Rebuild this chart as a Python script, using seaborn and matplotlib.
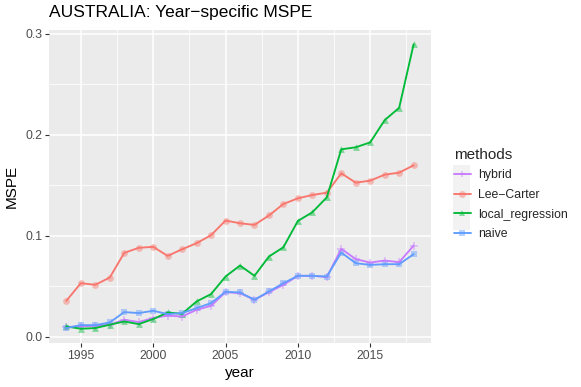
import matplotlib
matplotlib.use("Agg")
import matplotlib.pyplot as plt
from matplotlib.lines import Line2D
from matplotlib.patches import Rectangle
from matplotlib.ticker import MultipleLocator, FormatStrFormatter
from matplotlib.colors import to_rgba
import pandas as pd
import seaborn as sns

years = list(range(1994, 2019))

hybrid = [0.0096, 0.0102, 0.0109, 0.0119, 0.0168, 0.0145, 0.0185, 0.0210, 0.0200,
          0.0267, 0.0306, 0.0441, 0.0431, 0.0366, 0.0441, 0.0514, 0.0603, 0.0603,
          0.0590, 0.0870, 0.0768, 0.0734, 0.0754, 0.0738, 0.0902]
lee_carter = [0.0356, 0.0530, 0.0514, 0.0586, 0.0830, 0.0880, 0.0890, 0.0800, 0.0866,
              0.0926, 0.1005, 0.1150, 0.1123, 0.1107, 0.1200, 0.1314, 0.1370, 0.1403,
              0.1426, 0.1617, 0.1525, 0.1545, 0.1604, 0.1624, 0.1697]
local_regression = [0.0102, 0.0079, 0.0086, 0.0119, 0.0151, 0.0125, 0.0175, 0.0240,
                    0.0227, 0.0349, 0.0422, 0.0596, 0.0705, 0.0603, 0.0794, 0.0886,
                    0.1146, 0.1232, 0.1380, 0.1855, 0.1875, 0.1924, 0.2144, 0.2266,
                    0.2895]
naive = [0.0086, 0.0115, 0.0115, 0.0141, 0.0244, 0.0234, 0.0257, 0.0224, 0.0234,
         0.0283, 0.0333, 0.0445, 0.0438, 0.0366, 0.0448, 0.0530, 0.0603, 0.0603,
         0.0596, 0.0833, 0.0728, 0.0711, 0.0718, 0.0718, 0.0817]

methods = ["hybrid", "Lee-Carter", "local_regression", "naive"]
series = [hybrid, lee_carter, local_regression, naive]
palette = {"hybrid": "#C77CFF", "Lee-Carter": "#F8766D",
           "local_regression": "#00BA38", "naive": "#619CFF"}
shapes = {"hybrid": "+", "Lee-Carter": "o", "local_regression": "^", "naive": "s"}

df = pd.concat(
    [pd.DataFrame({"year": years, "MSPE": vals, "methods": m}) for m, vals in zip(methods, series)],
    ignore_index=True,
)

sns.set_theme(style="darkgrid")
plt.rcParams.update({
    "font.family": ["Liberation Sans", "DejaVu Sans"],
    "axes.facecolor": "#EBEBEB",
    "grid.color": "white",
    "axes.edgecolor": "#EBEBEB",
})

fig = plt.figure(figsize=(5.81, 3.87), dpi=100)
ax = fig.add_axes([49 / 581, 1 - 343 / 387, (431 - 49) / 581, (343 - 30) / 387])

sns.lineplot(data=df, x="year", y="MSPE", hue="methods", palette=palette,
             linewidth=1.35, legend=False, ax=ax)
for m in methods:
    sub = df[df["methods"] == m]
    if shapes[m] == "+":
        sns.scatterplot(data=sub, x="year", y="MSPE", marker="+", color=palette[m],
                        s=26, alpha=0.45, linewidth=1.2, legend=False, ax=ax)
    else:
        sns.scatterplot(data=sub, x="year", y="MSPE", marker=shapes[m], color=palette[m],
                        s=24, alpha=0.45, linewidth=0, legend=False, ax=ax)

ax.set_xlim(1992.8, 2019.2)
ax.set_ylim(-0.0062, 0.3036)
ax.set_xticks([1995, 2000, 2005, 2010, 2015])
ax.xaxis.set_minor_locator(MultipleLocator(2.5))
ax.yaxis.set_major_locator(MultipleLocator(0.1))
ax.yaxis.set_minor_locator(MultipleLocator(0.05))
ax.yaxis.set_major_formatter(FormatStrFormatter("%.1f"))
ax.grid(which="major", color="white", linewidth=1.1)
ax.grid(which="minor", color="white", linewidth=0.55)
ax.tick_params(which="major", length=2.8, width=0.8, color="#333333",
               labelcolor="#4D4D4D", labelsize=8.8, pad=2, bottom=True, left=True)
ax.tick_params(which="minor", length=0)
for sp in ax.spines.values():
    sp.set_visible(False)

ax.set_xlabel("year", fontsize=11, color="black", labelpad=3)
ax.set_ylabel("MSPE", fontsize=11, color="black", labelpad=5)
fig.text(49 / 581, 1 - 12 / 387, "AUSTRALIA: Year\u2212specific MSPE", fontsize=12.5,
         ha="left", va="center", color="black")

# legend key background (ggplot grey95 keys)
fig.patches.append(Rectangle((453 / 581, 1 - 230 / 387), 17 / 581, 65 / 387,
                             transform=fig.transFigure, facecolor="#F2F2F2",
                             edgecolor="none", zorder=0))
handles = [
    Line2D([0], [0], color=palette[m], linewidth=1.35, marker=shapes[m], markersize=5,
           markerfacecolor=to_rgba(palette[m], 0.45),
           markeredgecolor=to_rgba(palette[m], 0.45),
           markeredgewidth=1.2 if m == "hybrid" else 0)
    for m in methods
]
leg = fig.legend(handles, [m.replace("-", "\u2212") for m in methods], title="methods",
                 loc="upper left", bbox_to_anchor=(449 / 581, 1 - 143 / 387),
                 frameon=False, fontsize=8.8, title_fontsize=11, handlelength=1.4,
                 handletextpad=0.6, labelspacing=0.62, borderaxespad=0)
leg._legend_box.align = "left"

fig.savefig("out.png", dpi=100)
